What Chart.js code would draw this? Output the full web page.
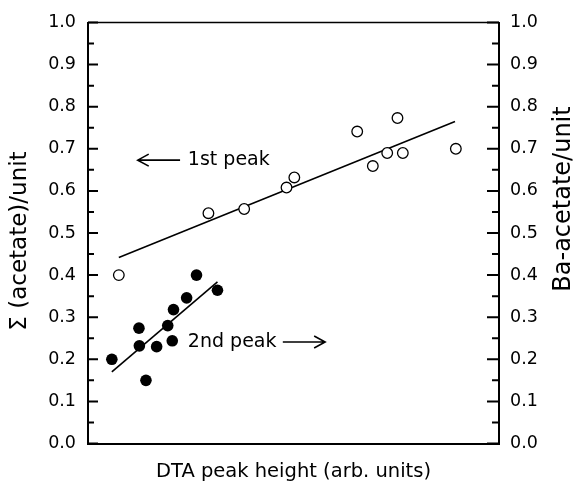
<!DOCTYPE html>
<html><head><meta charset="utf-8">
<script src="https://cdn.jsdelivr.net/npm/chart.js@4/dist/chart.umd.min.js"></script>
<style>html,body{margin:0;padding:0;background:#fff;}#wrap{width:574px;height:481px;}</style>
</head><body><div id="wrap"><canvas id="c" width="574" height="481"></canvas></div>
<script>
// ---- data ----
const firstPeakX = [7.5, 29.3, 38.0, 48.3, 50.2, 65.5, 69.3, 72.8, 75.3, 76.6, 89.5];
const firstPeakY = [0.40, 0.547, 0.557, 0.608, 0.632, 0.741, 0.659, 0.690, 0.773, 0.690, 0.70];
const secondPeakX = [5.8, 12.4, 12.5, 14.1, 16.7, 19.4, 20.5, 20.8, 24.0, 26.4, 31.5];
const secondPeakY = [0.200, 0.274, 0.232, 0.150, 0.230, 0.280, 0.244, 0.318, 0.346, 0.400, 0.364];
const firstFitX = [7.5, 89.3];
const firstFitY = [0.442, 0.765];
const secondFitX = [5.8, 31.5];
const secondFitY = [0.170, 0.384];
const yTickValues = [0.0, 0.1, 0.2, 0.3, 0.4, 0.5, 0.6, 0.7, 0.8, 0.9, 1.0];
const xTitle = 'DTA peak height (arb. units)';
const yLeftTitle = 'Σ (acetate)/unit';
const yRightTitle = 'Ba-acetate/unit';
const annotationTexts = ['1st peak', '2nd peak'];

// ---- layout/styling (kept apart from data) ----
const FONT = '"DejaVu Sans", sans-serif';
const annotationPlacement = [
  {textX: 24.3, y: 0.673, arrowFrom: 22.4, arrowTo: 12.1},
  {textX: 24.3, y: 0.241, arrowFrom: 47.4, arrowTo: 57.7}
];
const sideTitlePlacement = {
  left: {x: 20, y: 241, size: 23},
  right: {x: 564, y: 199, size: 24}
};

const toPts = (xs, ys) => xs.map((x, i) => ({x: x, y: ys[i]}));

const decorPlugin = {
  id: 'decor',
  afterDraw(chart) {
    const ctx = chart.ctx;
    const ca = chart.chartArea;
    const ys = chart.scales.y;
    const xs = chart.scales.x;
    ctx.save();
    ctx.strokeStyle = '#000';
    // top border
    ctx.lineWidth = 1.5;
    ctx.beginPath();
    ctx.moveTo(ca.left, ca.top);
    ctx.lineTo(ca.right, ca.top);
    ctx.stroke();
    // inward ticks (major at tick values, minor halfway)
    ctx.lineWidth = 2;
    for (let i = 0; i < yTickValues.length; i++) {
      const v = yTickValues[i];
      const py = ys.getPixelForValue(v);
      ctx.beginPath();
      ctx.moveTo(ca.left, py); ctx.lineTo(ca.left + 10, py);
      ctx.moveTo(ca.right, py); ctx.lineTo(ca.right - 12, py);
      ctx.stroke();
      if (i < yTickValues.length - 1) {
        const pm = ys.getPixelForValue((v + yTickValues[i + 1]) / 2);
        ctx.beginPath();
        ctx.moveTo(ca.left, pm); ctx.lineTo(ca.left + 6, pm);
        ctx.moveTo(ca.right, pm); ctx.lineTo(ca.right - 7, pm);
        ctx.stroke();
      }
    }
    // annotations
    ctx.fillStyle = '#000';
    ctx.font = '19px ' + FONT;
    ctx.textBaseline = 'middle';
    ctx.textAlign = 'left';
    ctx.lineWidth = 1.6;
    annotationTexts.forEach((t, i) => {
      const a = annotationPlacement[i];
      const py = ys.getPixelForValue(a.y);
      ctx.fillText(t, xs.getPixelForValue(a.textX), py);
      const x0 = xs.getPixelForValue(a.arrowFrom);
      const x1 = xs.getPixelForValue(a.arrowTo);
      const dir = x1 > x0 ? 1 : -1;
      ctx.beginPath();
      ctx.moveTo(x0, py); ctx.lineTo(x1, py);
      ctx.moveTo(x1 - dir * 11, py - 6); ctx.lineTo(x1, py); ctx.lineTo(x1 - dir * 11, py + 6);
      ctx.stroke();
    });
    // side titles
    ctx.textAlign = 'center';
    ctx.textBaseline = 'middle';
    [[sideTitlePlacement.left, yLeftTitle], [sideTitlePlacement.right, yRightTitle]].forEach(([p, t]) => {
      ctx.save();
      ctx.font = p.size + 'px ' + FONT;
      ctx.translate(p.x, p.y);
      ctx.rotate(-Math.PI / 2);
      ctx.fillText(t, 0, 0);
      ctx.restore();
    });
    ctx.restore();
  }
};

const yCommon = {
  type: 'linear', min: 0, max: 1,
  grid: {display: false, drawTicks: false},
  border: {display: true, color: '#000', width: 2},
  ticks: {stepSize: 0.1, color: '#000', font: {family: FONT, size: 17.5}, callback: v => Number(v).toFixed(1)}
};

new Chart(document.getElementById('c'), {
  type: 'scatter',
  data: {
    datasets: [
      {data: toPts(firstPeakX, firstPeakY), pointStyle: 'circle', pointRadius: 5.3, borderWidth: 1.3, borderColor: '#000', backgroundColor: '#fff'},
      {data: toPts(secondPeakX, secondPeakY), pointStyle: 'circle', pointRadius: 5.8, borderWidth: 0, backgroundColor: '#000'},
      {type: 'line', data: toPts(firstFitX, firstFitY), showLine: true, pointRadius: 0, borderColor: '#000', borderWidth: 1.6, fill: false},
      {type: 'line', data: toPts(secondFitX, secondFitY), showLine: true, pointRadius: 0, borderColor: '#000', borderWidth: 1.6, fill: false}
    ]
  },
  options: {
    responsive: false, animation: false, devicePixelRatio: 1,
    layout: {padding: {top: 21, left: 0, right: 0, bottom: 0}},
    plugins: {legend: {display: false}, tooltip: {enabled: false}},
    scales: {
      x: {type: 'linear', min: 0, max: 100, position: 'bottom',
          grid: {display: false, drawTicks: false},
          border: {display: true, color: '#000', width: 2},
          ticks: {display: false},
          title: {display: true, text: xTitle, color: '#000', font: {family: FONT, size: 19.5, lineHeight: 1}, padding: {top: 0, bottom: -1}},
          afterFit(s) { s.height = 37.5; }},
      y: Object.assign({}, yCommon, {position: 'left',
          ticks: Object.assign({}, yCommon.ticks, {padding: 12}),
          afterFit(s) { s.width = 88; }}),
      y2: Object.assign({}, yCommon, {position: 'right',
          ticks: Object.assign({}, yCommon.ticks, {padding: 11}),
          afterFit(s) { s.width = 75; }})
    }
  },
  plugins: [decorPlugin]
});
</script>
</body></html>
